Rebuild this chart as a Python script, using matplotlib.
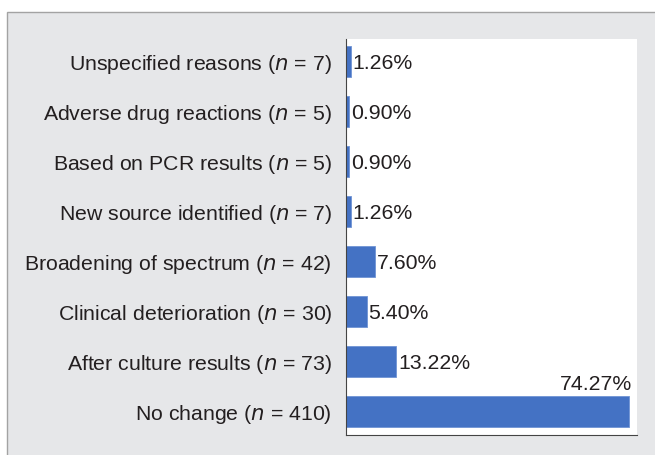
import matplotlib.pyplot as plt
from matplotlib.patches import Rectangle

plt.rcParams['font.family'] = ['Liberation Sans', 'DejaVu Sans']

reasons = ['No change', 'After culture results', 'Clinical deterioration',
           'Broadening of spectrum', 'New source identified', 'Based on PCR results',
           'Adverse drug reactions', 'Unspecified reasons']
counts = [410, 73, 30, 42, 7, 5, 5, 7]
percents = [74.27, 13.22, 5.40, 7.60, 1.26, 0.90, 0.90, 1.26]

fig = plt.figure(figsize=(6.55, 4.55), dpi=100)
fig.patch.set_facecolor('white')

# gray panel behind the chart
fig.patches.append(Rectangle((7 / 655, -0.01), 1.0, 1 - 12 / 455 + 0.01,
                             transform=fig.transFigure, facecolor='#e6e7e9',
                             edgecolor='#a3a3a3', linewidth=1.0, zorder=-10))

ax = fig.add_axes([346 / 655, 1 - 435 / 455, (637 - 346) / 655, (435 - 39) / 455])
ax.set_facecolor('white')

fs = 15.3
y = list(range(len(reasons)))
ax.barh(y, percents, height=0.62, color='#4472c4', edgecolor='#6f94d4', linewidth=0.6)

for i, p in enumerate(percents):
    if p > 50:
        ax.text(p + 0.8, i + 0.34, '%.2f%%' % p, ha='right', va='bottom', fontsize=fs, color='#231f20')
    else:
        ax.text(p + 0.5, i, '%.2f%%' % p, ha='left', va='center_baseline', fontsize=fs, color='#231f20')

labels = [r'%s ($\it{n}$ = %d)' % (r, c) for r, c in zip(reasons, counts)]
ax.set_yticks(y)
ax.set_yticklabels(labels, fontsize=fs, color='#231f20')
ax.tick_params(axis='y', length=0, pad=10)
ax.set_xticks([])
ax.set_xlim(0, 76.4)
ax.set_ylim(-0.48, 7.46)

for s in ['top', 'right']:
    ax.spines[s].set_visible(False)
ax.spines['left'].set_color('#444444')
ax.spines['bottom'].set_color('#444444')

fig.savefig('out.png', dpi=100)
